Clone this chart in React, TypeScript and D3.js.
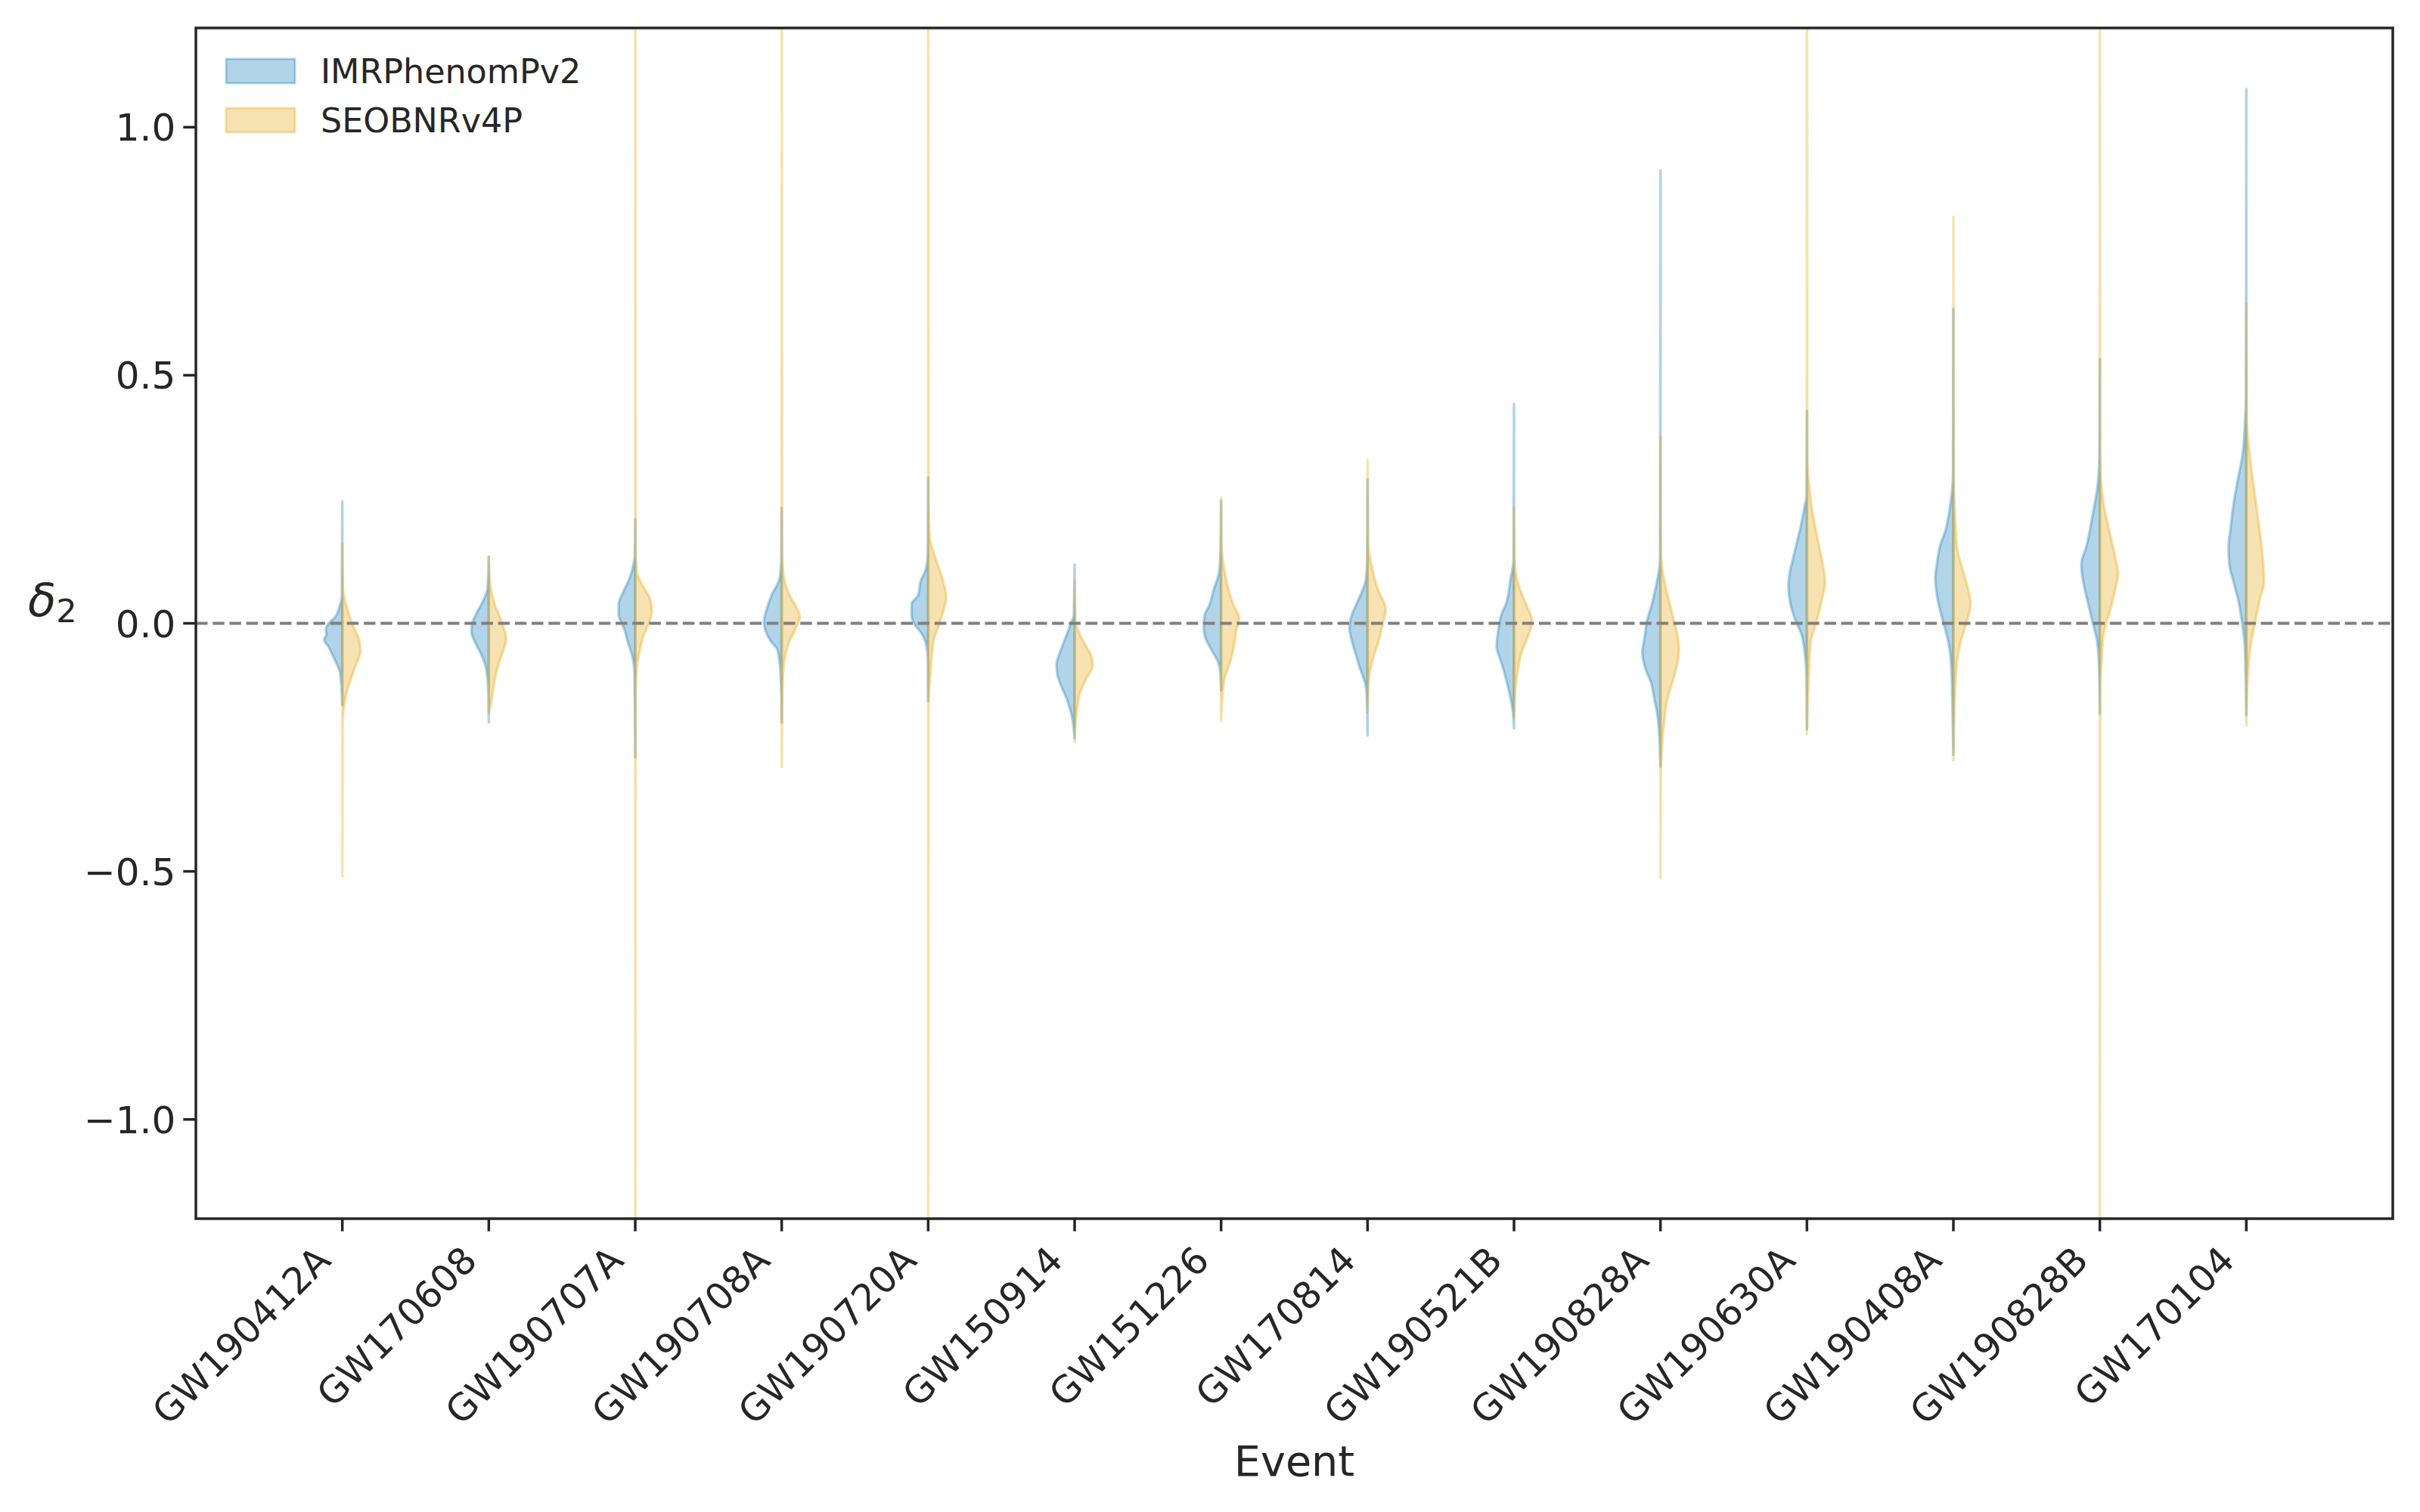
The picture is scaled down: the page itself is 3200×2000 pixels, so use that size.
import React from "react";
import * as d3 from "d3";

// ---------- data ----------
const events = [
  "GW190412A", "GW170608", "GW190707A", "GW190708A", "GW190720A", "GW150914", "GW151226",
  "GW170814", "GW190521B", "GW190828A", "GW190630A", "GW190408A", "GW190828B", "GW170104",
];
const models = ["IMRPhenomPv2", "SEOBNRv4P"];
const modelColors = ["#0072B2", "#E69F00"];
const yTicks = [-1.0, -0.5, 0.0, 0.5, 1.0];

// Each profile: [delta2 value, relative density (half-width)]
const imrProfiles: [number, number][][] = [
  [[-0.165,0],[-0.1,3],[-0.08,8],[-0.064,13],[-0.048,18],[-0.033,24],[-0.022,21],[-0.012,22],[0.0,18],[0.012,10],[0.038,3],[0.058,0.5],[0.246,0]],
  [[-0.2,0],[-0.14,0.5],[-0.088,4],[-0.063,10],[-0.042,17],[-0.016,23],[0.0,22],[0.018,17],[0.038,10],[0.068,2],[0.1,0.5],[0.134,0]],
  [[-0.27,0],[-0.1,1],[-0.063,4.5],[-0.037,10],[-0.01,15],[0.0,18],[0.018,22],[0.038,22],[0.063,16],[0.089,8],[0.114,3],[0.14,0.5],[0.21,0]],
  [[-0.2,0],[-0.12,1],[-0.077,3],[-0.052,6],[-0.037,14],[-0.012,22],[0.004,23.5],[0.028,20],[0.058,13],[0.089,3],[0.13,0.5],[0.233,0]],
  [[-0.157,0],[-0.07,0.5],[-0.04,3],[-0.02,9],[0.0,19],[0.018,22],[0.038,22],[0.058,13],[0.085,10],[0.11,3],[0.14,0.5],[0.294,0]],
  [[-0.232,0],[-0.185,4],[-0.154,10],[-0.129,17],[-0.103,23],[-0.084,24],[-0.053,18],[-0.021,10],[0.004,4],[0.016,1],[0.118,0]],
  [[-0.135,0],[-0.1,1],[-0.078,4],[-0.053,13],[-0.028,21],[-0.009,23],[0.016,22],[0.035,16],[0.067,10],[0.105,2.5],[0.161,0.5],[0.246,0]],
  [[-0.226,0],[-0.15,1],[-0.122,3],[-0.091,10],[-0.066,15],[-0.04,20],[-0.009,24],[0.016,21],[0.048,12],[0.086,2.5],[0.13,0.5],[0.29,0]],
  [[-0.212,0],[-0.173,2],[-0.141,6],[-0.11,11],[-0.078,17],[-0.047,23],[-0.015,21],[0.016,17],[0.042,10],[0.086,5],[0.13,0.5],[0.442,0]],
  [[-0.289,0],[-0.217,2],[-0.185,4],[-0.154,8],[-0.122,12],[-0.091,20],[-0.059,24],[-0.028,21],[0.004,18],[0.035,12],[0.067,7],[0.098,3],[0.13,0.5],[0.913,0]],
  [[-0.213,0],[-0.108,0.5],[-0.065,2.5],[-0.021,7.5],[0.005,15],[0.04,22],[0.075,24.5],[0.1,23],[0.127,19],[0.19,9],[0.24,2.5],[0.258,0.5],[0.428,0]],
  [[-0.265,0],[-0.152,1.5],[-0.082,3],[-0.038,6.5],[0.005,14],[0.049,21],[0.092,24],[0.119,22],[0.154,18],[0.19,10],[0.24,4],[0.3,0.5],[0.634,0]],
  [[-0.182,0],[-0.09,1],[-0.038,3.5],[0.005,10],[0.049,17],[0.092,23],[0.119,24.5],[0.154,18],[0.223,9],[0.284,2.5],[0.345,0.5],[0.533,0]],
  [[-0.185,0],[-0.047,2],[0.005,6],[0.049,11],[0.084,17],[0.119,22.5],[0.154,23.5],[0.19,21],[0.24,17],[0.284,12],[0.345,4.5],[0.398,2],[0.459,0.5],[1.077,0]],
];

const seobProfiles: [number, number][][] = [
  [[-0.51,0],[-0.2,0.5],[-0.165,2.5],[-0.138,6],[-0.114,11],[-0.08,19],[-0.058,24],[-0.038,23],[0.0,13],[0.038,5],[0.068,1],[0.162,0]],
  [[-0.182,0],[-0.165,2.5],[-0.114,8],[-0.077,14],[-0.052,20],[-0.031,23],[0.0,18],[0.038,8],[0.09,1],[0.134,0]],
  [[-1.5,0],[-0.15,0.5],[-0.088,2],[-0.063,5],[-0.025,11],[0.0,18],[0.023,22],[0.048,20],[0.073,11],[0.104,2],[0.15,0.5],[1.5,0]],
  [[-0.29,0],[-0.114,1.5],[-0.063,5],[-0.037,10],[-0.012,18],[0.014,24],[0.028,21],[0.058,10],[0.104,2],[0.15,0.5],[1.5,0]],
  [[-1.5,0],[-0.16,0.5],[-0.114,2.5],[-0.063,5],[-0.03,8],[0.0,15],[0.03,21],[0.052,24],[0.09,19],[0.13,10],[0.175,2],[0.25,0.5],[1.5,0]],
  [[-0.239,0],[-0.204,1],[-0.166,4],[-0.141,7],[-0.11,16],[-0.084,24],[-0.066,22],[-0.04,13],[-0.015,5],[0.004,1],[0.087,0]],
  [[-0.197,0],[-0.116,4],[-0.078,12],[-0.047,17],[-0.015,20],[0.01,24],[0.035,17],[0.067,10],[0.098,5.5],[0.161,0.5],[0.253,0]],
  [[-0.179,0],[-0.11,2],[-0.072,7],[-0.034,15],[-0.003,20],[0.029,24],[0.067,14],[0.105,7],[0.16,1],[0.33,0]],
  [[-0.188,0],[-0.122,2.5],[-0.091,5.5],[-0.059,10],[-0.028,18],[0.004,24],[0.035,17],[0.073,7],[0.13,0.5],[0.233,0]],
  [[-0.514,0],[-0.3,0.5],[-0.248,2],[-0.198,5],[-0.154,9],[-0.122,15],[-0.091,21],[-0.053,24.5],[-0.028,23],[0.004,18],[0.035,13],[0.08,6],[0.142,0.5],[0.376,0]],
  [[-0.223,0],[-0.108,2.5],[-0.038,5],[0.005,13],[0.049,20],[0.084,24],[0.127,20],[0.171,14],[0.223,7.5],[0.284,2.5],[0.345,0.5],[1.5,0]],
  [[-0.276,0],[-0.152,2],[-0.082,4.5],[-0.038,9.5],[0.005,18],[0.04,23],[0.066,20],[0.11,12],[0.154,4.5],[0.197,3],[0.284,0.5],[0.819,0]],
  [[-1.5,0],[-0.12,0.5],[-0.073,2.5],[-0.021,5],[0.023,13],[0.066,20],[0.1,24],[0.136,20],[0.19,12],[0.24,5],[0.328,0.5],[1.5,0]],
  [[-0.206,0],[-0.108,2],[-0.047,5.5],[0.005,12],[0.049,18],[0.084,23.5],[0.127,22],[0.171,19],[0.24,13],[0.328,5.5],[0.415,0.5],[0.645,0]],
];

// ---------- layout ----------
const W = 3200;
const H = 2000;
const M = { left: 259, right: 3164, top: 37, bottom: 1612 };
const FONT = "'DejaVu Sans', sans-serif";
const INK = "#262626";

export default function App() {
  const x = d3.scaleLinear().domain([-1, events.length]).range([M.left, M.right]);
  const y = d3.scaleLinear().domain([-1.2, 1.2]).range([M.bottom, M.top]);
  // relative density -> half-width in category units
  const dens = d3.scaleLinear().domain([0, 25]).range([0, 0.129]);
  const unit = x(1) - x(0);

  const halfArea = (center: number, side: number) =>
    d3
      .area<[number, number]>()
      .y((d) => y(d[0]))
      .x0(() => x(center))
      .x1((d) => x(center) + side * dens(d[1]) * unit)
      .curve(d3.curveMonotoneY);

  const tickLen = 16.7;
  const lw = 3.5;

  return (
    <svg
      width={W}
      height={H}
      viewBox={`0 0 ${W} ${H}`}
      style={{ position: "absolute", left: 0, top: 0, background: "#fff" }}
      fontFamily={FONT}
    >
      <defs>
        <clipPath id="plotClip">
          <rect x={M.left} y={M.top} width={M.right - M.left} height={M.bottom - M.top} />
        </clipPath>
      </defs>
      <rect x={0} y={0} width={W} height={H} fill="#fff" />

      {/* violins */}
      <g clipPath="url(#plotClip)">
        {events.map((ev, i) => (
          <g key={ev}>
            {[imrProfiles[i], seobProfiles[i]].map((prof, m) => (
              <path
                key={m}
                d={halfArea(i, m === 0 ? -1 : 1)(prof) || ""}
                fill={modelColors[m]}
                fillOpacity={0.3}
                stroke={modelColors[m]}
                strokeOpacity={0.3}
                strokeWidth={lw}
                strokeLinejoin="round"
              />
            ))}
          </g>
        ))}
        {/* zero line */}
        <line
          x1={M.left}
          x2={M.right}
          y1={y(0)}
          y2={y(0)}
          stroke="#808080"
          strokeWidth={4.2}
          strokeDasharray="15.5 6.7"
        />
      </g>

      {/* spines */}
      <rect
        x={M.left}
        y={M.top}
        width={M.right - M.left}
        height={M.bottom - M.top}
        fill="none"
        stroke={INK}
        strokeWidth={lw}
      />

      {/* y ticks */}
      {yTicks.map((t) => (
        <g key={t}>
          <line x1={M.left - tickLen} x2={M.left} y1={y(t)} y2={y(t)} stroke={INK} strokeWidth={lw} />
          <text
            x={M.left - tickLen - 10}
            y={y(t)}
            dy="0.36em"
            textAnchor="end"
            fontSize={50}
            fill={INK}
          >
            {d3.format(".1f")(t).replace("-", "\u2212")}
          </text>
        </g>
      ))}

      {/* x ticks */}
      {events.map((ev, i) => (
        <g key={ev}>
          <line x1={x(i)} x2={x(i)} y1={M.bottom} y2={M.bottom + tickLen} stroke={INK} strokeWidth={lw} />
          <text
            transform={`translate(${x(i) - 13},${M.bottom + 58}) rotate(-45)`}
            textAnchor="end"
            fontSize={49}
            fill={INK}
          >
            {ev}
          </text>
        </g>
      ))}

      {/* axis labels */}
      <text x={(M.left + M.right) / 2} y={1952} textAnchor="middle" fontSize={55.6} fill={INK}>
        Event
      </text>
      <text x={37} y={815} fontSize={61} fill={INK}>
        <tspan fontStyle="italic">δ</tspan>
        <tspan fontSize={43} dy={8}>2</tspan>
      </text>

      {/* legend */}
      {models.map((m, k) => (
        <g key={m}>
          <rect
            x={299}
            y={78 + k * 65}
            width={91}
            height={32}
            fill={modelColors[k]}
            fillOpacity={0.3}
            stroke={modelColors[k]}
            strokeOpacity={0.3}
            strokeWidth={3}
          />
          <text x={424} y={110 + k * 65} fontSize={44.4} fill={INK}>
            {m}
          </text>
        </g>
      ))}
    </svg>
  );
}
